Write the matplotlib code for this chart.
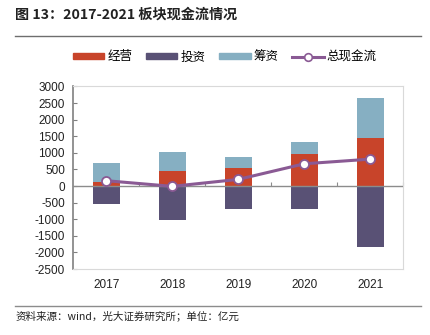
import matplotlib
matplotlib.use("Agg")
import matplotlib.pyplot as plt
from matplotlib.lines import Line2D
from matplotlib.patches import Patch
import numpy as np

plt.rcParams['font.family'] = ['Liberation Sans', 'Noto Sans CJK SC', 'DejaVu Sans']

years = ['2017', '2018', '2019', '2020', '2021']
operating = [130, 450, 550, 970, 1440]
investing = [-550, -1030, -680, -680, -1850]
financing = [560, 570, 320, 370, 1210]
total = [160, -10, 200, 670, 810]
yticks = list(range(-2500, 3001, 500))

c_op = '#C8442A'
c_inv = '#595175'
c_fin = '#86AFC2'
c_tot = '#8A5A94'

fig = plt.figure(figsize=(4.31, 3.35), dpi=100)
ax = fig.add_axes([0.170, 0.197, 0.766, 0.545])

x = np.arange(len(years))
w = 0.41
ax.bar(x, operating, w, color=c_op, zorder=2)
ax.bar(x, financing, w, bottom=operating, color=c_fin, zorder=2)
ax.bar(x, investing, w, color=c_inv, zorder=2)
ax.axhline(0, color='#8C8C8C', lw=1.0, zorder=3)
ax.plot(x, total, color=c_tot, lw=2.2, marker='o', ms=6.5, mfc='white',
        mec=c_tot, mew=1.3, zorder=4)

ax.set_xlim(-0.5, 4.5)
ax.set_ylim(-2500, 3000)
ax.set_yticks(yticks)
ax.set_yticklabels([str(v) for v in yticks], fontsize=8.5, color='#222222')
ax.tick_params(axis='y', direction='in', length=3, color='#808080', pad=6)
ax.set_xticks(x)
ax.set_xticklabels(years, fontsize=8.5, color='#222222')
ax.tick_params(axis='x', length=0, pad=7)

for s in ['top', 'right', 'bottom']:
    ax.spines[s].set_color('#D9D9D9')
    ax.spines[s].set_linewidth(0.8)
ax.spines['left'].set_color('#808080')
ax.spines['left'].set_linewidth(1.2)

sec = ax.secondary_xaxis(2500 / 5500)
sec.set_xticks([0.5, 1.5, 2.5, 3.5, 4.5])
sec.set_xticklabels([])
sec.tick_params(direction='in', length=3, color='#8C8C8C')
sec.spines['bottom'].set_visible(False)

handles = [Patch(color=c_op), Patch(color=c_inv), Patch(color=c_fin),
           Line2D([0], [0], color=c_tot, lw=2.2, marker='o', ms=5.5,
                  mfc='white', mec=c_tot, mew=1.2)]
labels = ['经营', '投资', '筹资', '总现金流']
fig.legend(handles, labels, loc='center', bbox_to_anchor=(0.522, 0.83), ncol=4,
           frameon=False, handlelength=2.5, handleheight=0.4,
           columnspacing=1.1, handletextpad=0.25,
           prop={'family': ['Noto Sans CJK SC'], 'size': 9})

fig.text(0.035, 0.955, '图 13：2017-2021 板块现金流情况', fontsize=10.2,
         fontweight='bold', family=['Noto Sans CJK SC'], va='center',
         color='#222222')
fig.add_artist(Line2D([0.035, 0.977], [0.893, 0.893], color='#6E6E6E',
                      lw=1.0, transform=fig.transFigure))
fig.add_artist(Line2D([0.035, 0.977], [0.088, 0.088], color='#8C8C8C',
                      lw=1.0, transform=fig.transFigure))
fig.text(0.035, 0.058, '资料来源：wind，光大证券研究所；单位：亿元', fontsize=7.6,
         family=['Noto Sans CJK SC'], va='center', color='#222222')

fig.savefig('out.png', dpi=100)
